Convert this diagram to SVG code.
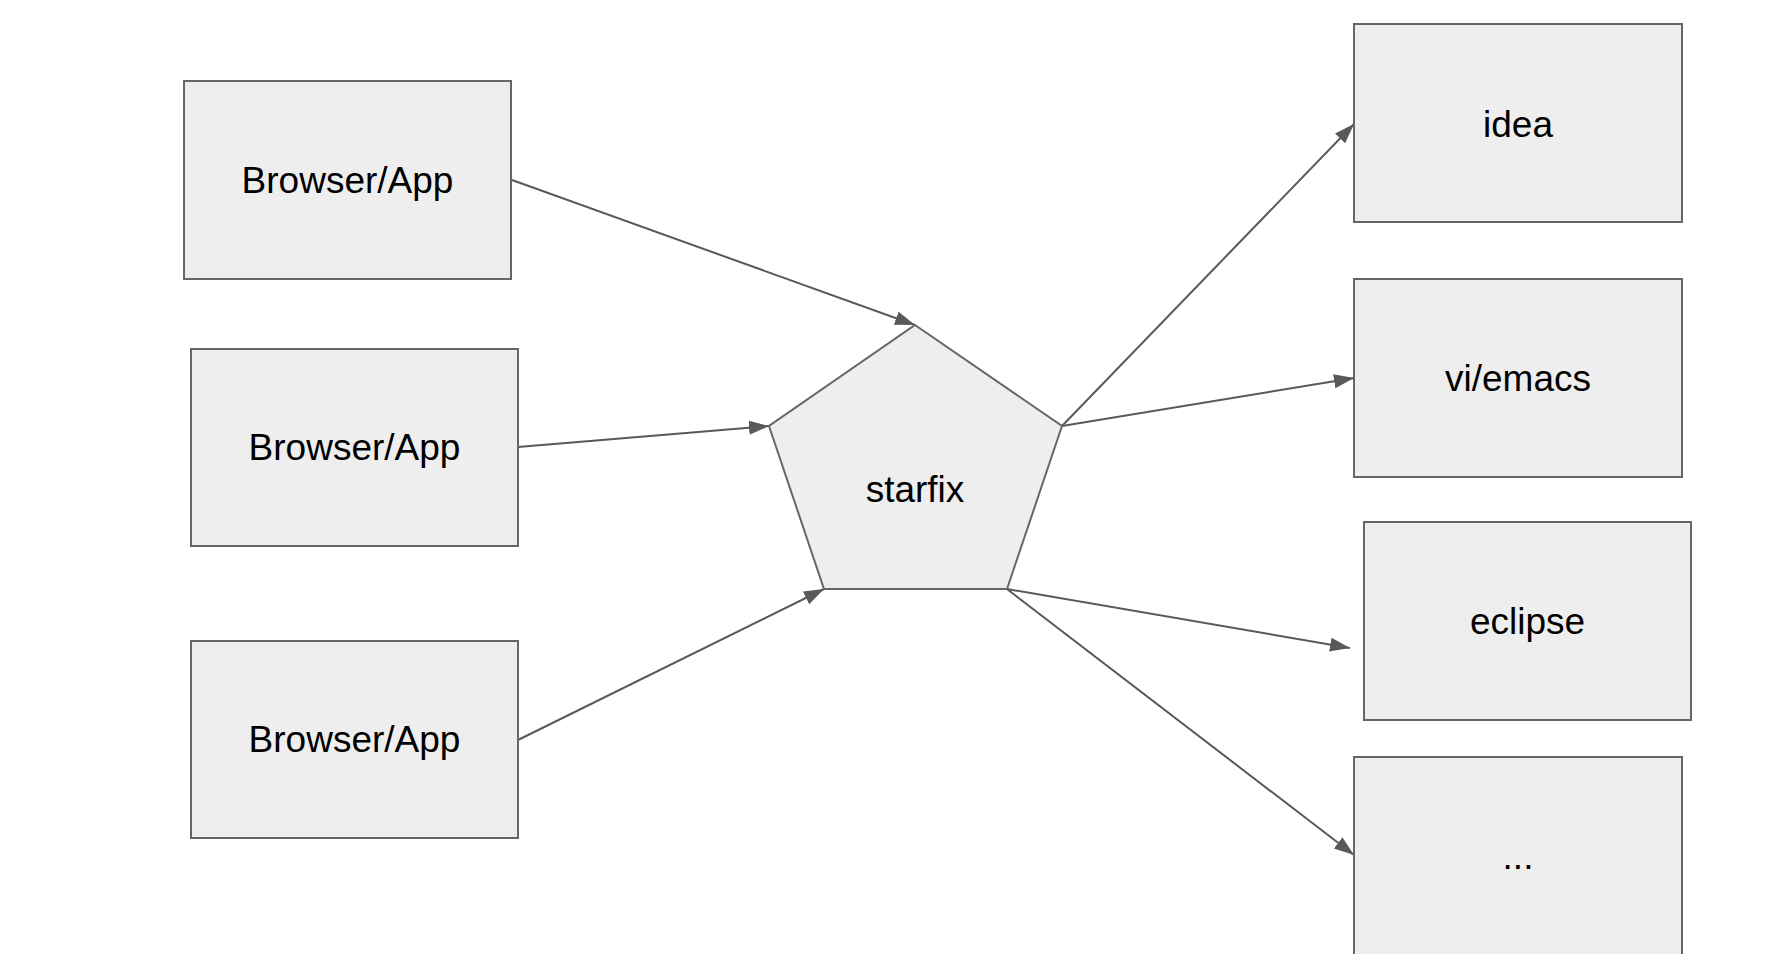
<svg xmlns="http://www.w3.org/2000/svg" width="1792" height="954" viewBox="0 0 1792 954">
<style>
.box{fill:#eeeeee;stroke:#666666;stroke-width:2}
.lbl{font-family:"Liberation Sans",Arial,sans-serif;font-size:37px;fill:#000000;text-anchor:middle}
.edge{stroke:#595959;stroke-width:2;fill:none;marker-end:url(#arr)}
</style>
<defs>
<marker id="arr" markerUnits="userSpaceOnUse" markerWidth="22" markerHeight="16" refX="20" refY="7" orient="auto" viewBox="0 0 22 16">
<path d="M0,0 L20,7 L0,14 Z" fill="#595959"/>
</marker>
</defs>
<rect width="1792" height="954" fill="#ffffff"/>
<g id="connectors">
<line class="edge" x1="512" y1="180" x2="915" y2="325"/>
<line class="edge" x1="518" y1="447" x2="769" y2="426"/>
<line class="edge" x1="518" y1="740" x2="824" y2="589"/>
<line class="edge" x1="1062" y1="426" x2="1354" y2="124"/>
<line class="edge" x1="1062" y1="426" x2="1354" y2="378"/>
<line class="edge" x1="1007" y1="589" x2="1350" y2="648"/>
<line class="edge" x1="1007" y1="589" x2="1354" y2="855"/>
</g>
<g id="browser1"><rect class="box" x="184" y="81" width="327" height="198"/><text class="lbl" x="347.5" y="193">Browser/App</text></g>
<g id="browser2"><rect class="box" x="191" y="349" width="327" height="197"/><text class="lbl" x="354.5" y="460">Browser/App</text></g>
<g id="browser3"><rect class="box" x="191" y="641" width="327" height="197"/><text class="lbl" x="354.5" y="752">Browser/App</text></g>
<g id="starfix"><polygon class="box" points="915,325 1062,426 1007,589 824,589 769,426"/><text class="lbl" x="915" y="502">starfix</text></g>
<g id="idea"><rect class="box" x="1354" y="24" width="328" height="198"/><text class="lbl" x="1518" y="137">idea</text></g>
<g id="viemacs"><rect class="box" x="1354" y="279" width="328" height="198"/><text class="lbl" x="1518" y="391">vi/emacs</text></g>
<g id="eclipse"><rect class="box" x="1364" y="522" width="327" height="198"/><text class="lbl" x="1527.5" y="634">eclipse</text></g>
<g id="more"><rect class="box" x="1354" y="757" width="328" height="220"/><text class="lbl" x="1518" y="869">...</text></g>
</svg>
